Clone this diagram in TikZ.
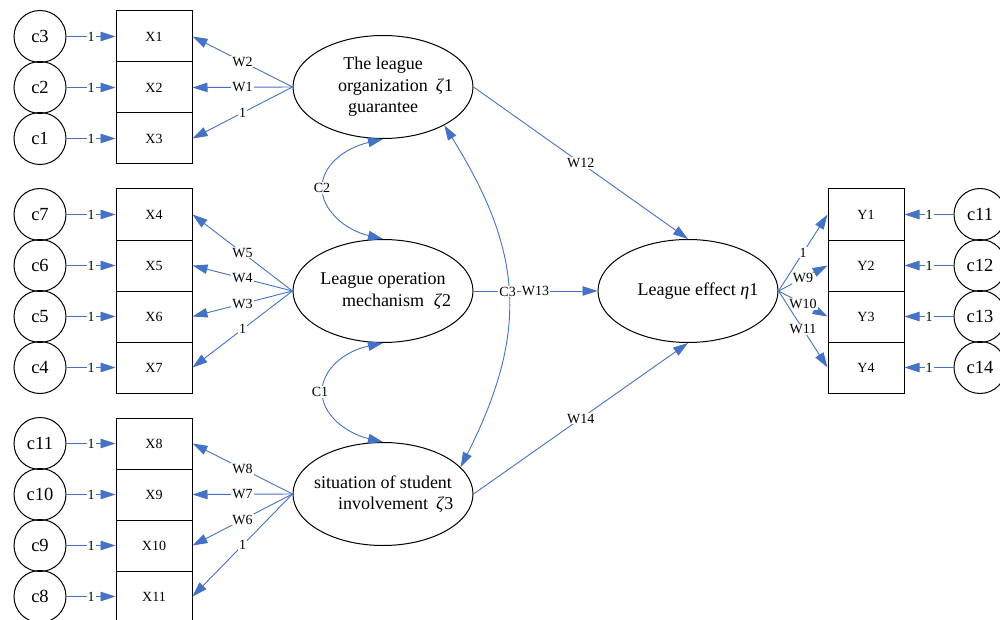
\documentclass[tikz,border=0pt]{standalone}
\usepackage{fontspec}
\setmainfont{Liberation Serif}
\usetikzlibrary{arrows.meta,shapes.geometric,calc}
\definecolor{lblue}{HTML}{4472C4}
\tikzset{
  obs/.style={draw, line width=1pt, minimum width=76pt, minimum height=51pt, inner sep=0pt, font=\fontsize{14}{16}\selectfont},
  err/.style={draw, circle, line width=1pt, minimum size=52pt, inner sep=0pt, font=\fontsize{18.5}{20}\selectfont},
  lat/.style={draw, ellipse, line width=1pt, minimum width=180pt, minimum height=103pt, inner sep=0pt, align=center, font=\fontsize{18}{21.5}\selectfont},
  conn/.style={draw=lblue, line width=0.9pt, -{Triangle[length=15pt,width=9.5pt]}},
  biconn/.style={draw=lblue, line width=0.9pt, {Triangle[length=15pt,width=9.5pt]}-{Triangle[length=15pt,width=9.5pt]}},
  lbl/.style={fill=white, inner sep=1pt, font=\fontsize{14}{16}\selectfont},
}
\begin{document}
\begin{tikzpicture}[x=1pt,y=-1pt]
\useasboundingbox (0,0) rectangle (1000,620);
% observed X boxes and error circles
\foreach \n/\c/\y in {1/c3/36.5,2/c2/87.5,3/c1/138.5,4/c7/214.5,5/c6/265.5,6/c5/316.5,7/c4/367.5,8/c11/443.5,9/c10/494.5,10/c9/545.5,11/c8/596.5}{
  \node[obs] (X\n) at (154,\y) {X\n};
  \node[err] (cx\n) at (40,\y) {\c};
  \draw[conn] (cx\n) -- node[lbl]{1} (X\n);
}
% Y boxes and error circles
\foreach \n/\c/\y in {1/c11/214.5,2/c12/265.5,3/c13/316.5,4/c14/367.5}{
  \node[obs] (Y\n) at (866,\y) {Y\n};
  \node[err] (cy\n) at (980,\y) {\c};
  \draw[conn] (cy\n) -- node[lbl]{1} (Y\n);
}
% latent variables
\node[lat] (e1) at (383,87) {The league\\organization\rlap{\hspace{0.45em}\textit{ζ}1}\\guarantee};
\node[lat] (e2) at (383,291) {League operation\\mechanism\rlap{\hspace{0.55em}\textit{ζ}2}};
\node[lat] (e3) at (383,494) {\makebox[0pt]{situation of student}\\\makebox[0pt]{involvement\rlap{\hspace{0.45em}\textit{ζ}3}}};
\node[lat] (eta) at (688,291) {\makebox[0pt]{\hspace{20pt}League effect \textit{η}1}};
% loadings
\draw[conn] (e1.west) -- node[lbl]{W2} (X1.east);
\draw[conn] (e1.west) -- node[lbl]{W1} (X2.east);
\draw[conn] (e1.west) -- node[lbl]{1} (X3.east);
\draw[conn] (e2.west) -- node[lbl]{W5} (X4.east);
\draw[conn] (e2.west) -- node[lbl]{W4} (X5.east);
\draw[conn] (e2.west) -- node[lbl]{W3} (X6.east);
\draw[conn] (e2.west) -- node[lbl]{1} (X7.east);
\draw[conn] (e3.west) -- node[lbl]{W8} (X8.east);
\draw[conn] (e3.west) -- node[lbl]{W7} (X9.east);
\draw[conn] (e3.west) -- node[lbl]{W6} (X10.east);
\draw[conn] (e3.west) -- node[lbl]{1} (X11.east);
\draw[conn] (eta.east) -- node[lbl]{1} (Y1.west);
\draw[conn] (eta.east) -- node[lbl]{W9} (Y2.west);
\draw[conn] (eta.east) -- node[lbl]{W10} (Y3.west);
\draw[conn] (eta.east) -- node[lbl]{W11} (Y4.west);
% structural paths
\draw[conn] (e1.east) -- node[lbl]{W12} (eta.north);
\draw[conn] (e2.east) -- node[lbl]{W13} (eta.west);
\draw[conn] (e3.east) -- node[lbl]{W14} (eta.south);
% covariances
\draw[biconn] (e1.south) .. controls (345,148) and (322,165) .. (322,188)
  .. controls (322,210) and (345,230) .. (e2.north);
\node[lbl] (lc2) at (322,188) {C2};
\draw[biconn] (e2.south) .. controls (345,351) and (322,369) .. (322,392)
  .. controls (322,414) and (345,433) .. (e3.north);
\node[lbl] (lc1) at (320,392) {C1};
\draw[biconn] (e1.-32) .. controls (522,250) and (530,330) .. node[lbl,pos=0.5]{C3} (e3.19);
\end{tikzpicture}
\end{document}
